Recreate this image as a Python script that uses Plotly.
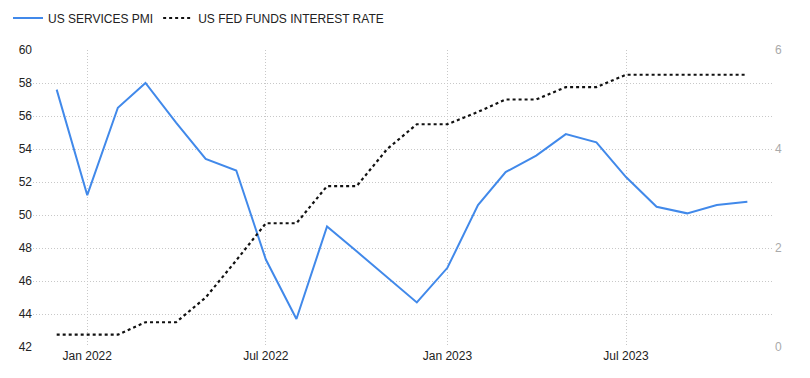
import plotly.graph_objects as go

months = ["2021-12-01", "2022-01-01", "2022-02-01", "2022-03-01", "2022-04-01", "2022-05-01",
          "2022-06-01", "2022-07-01", "2022-08-01", "2022-09-01", "2022-10-01", "2022-11-01",
          "2022-12-01", "2023-01-01", "2023-02-01", "2023-03-01", "2023-04-01", "2023-05-01",
          "2023-06-01", "2023-07-01", "2023-08-01", "2023-09-01", "2023-10-01", "2023-11-01"]
services_pmi = [57.6, 51.2, 56.5, 58.0, 55.6, 53.4, 52.7, 47.3, 43.7, 49.3, 47.8, 46.2,
                44.7, 46.8, 50.6, 52.6, 53.6, 54.9, 54.4, 52.3, 50.5, 50.1, 50.6, 50.8]
fed_rate = [0.25, 0.25, 0.25, 0.5, 0.5, 1.0, 1.75, 2.5, 2.5, 3.25, 3.25, 4.0,
            4.5, 4.5, 4.75, 5.0, 5.0, 5.25, 5.25, 5.5, 5.5, 5.5, 5.5, 5.5]
left_ticks = [42, 44, 46, 48, 50, 52, 54, 56, 58, 60]
right_ticks = [0, 2, 4, 6]

fig = go.Figure()
fig.add_trace(go.Scatter(x=months, y=services_pmi, name="US SERVICES PMI", mode="lines",
                         line=dict(color="#4189ea", width=2)))
fig.add_trace(go.Scatter(x=months, y=fed_rate, name="US FED FUNDS INTEREST RATE", mode="lines",
                         yaxis="y2", line=dict(color="#111111", width=2.2, dash="dot")))

grid = "#c8c8c8"
fig.update_layout(
    width=810, height=378,
    margin=dict(l=25, r=44, t=42, b=39, autoexpand=False),
    paper_bgcolor="white", plot_bgcolor="white",
    font=dict(family="Liberation Sans, Arial, sans-serif", size=12, color="#222"),
    showlegend=True,
    legend=dict(orientation="h", xref="container", x=0.0, xanchor="left",
                yref="container", y=1 - 10 / 378, yanchor="middle",
                font=dict(size=12, color="#222"),
                itemwidth=30, bgcolor="rgba(0,0,0,0)"),
    xaxis=dict(type="date", range=["2021-11-07", "2023-11-28"], tick0="2022-01-01", dtick="M6",
               tickformat="%b %Y", showgrid=True, gridcolor=grid, griddash="1px,2px", gridwidth=1,
               zeroline=False, showline=False, ticks="", automargin=False,
               tickfont=dict(color="#222", size=12)),
    yaxis=dict(range=[42, 60], tickvals=left_ticks, showgrid=True, gridcolor=grid, griddash="1px,2px",
               zeroline=False, showline=False, ticks="", automargin=False,
               tickfont=dict(color="#222", size=12)),
    yaxis2=dict(range=[0, 6], tickvals=right_ticks, overlaying="y", side="right", showgrid=False,
                zeroline=False, showline=False, ticks="", automargin=False,
                tickfont=dict(color="#aaaaaa", size=12)),
)
fig.write_html("out.html")
